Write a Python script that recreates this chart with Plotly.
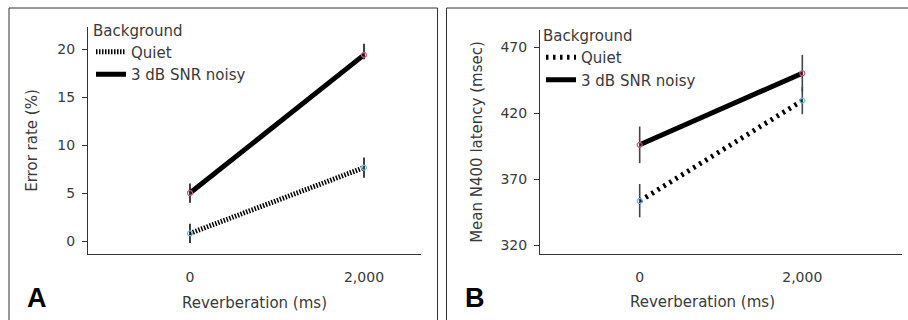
import plotly.graph_objects as go

# ---------------- data ----------------
reverb = [0, 2000]
reverb_ticktext = ["0", "2,000"]

# Panel A: error rate (%)
errA_quiet = [0.8, 7.65]
errA_quiet_plus = [1.0, 1.05]
errA_quiet_minus = [1.0, 1.05]
errA_noisy = [5.0, 19.4]
errA_noisy_plus = [1.0, 1.15]
errA_noisy_minus = [1.0, 0.45]
yticksA = [0, 5, 10, 15, 20]

# Panel B: mean N400 latency (msec)
latB_quiet = [353.4, 429.5]
latB_quiet_plus = [12.9, 10.3]
latB_quiet_minus = [12.4, 10.3]
latB_noisy = [396.0, 450.3]
latB_noisy_plus = [13.9, 13.9]
latB_noisy_minus = [13.9, 13.9]
yticksB = [320, 370, 420, 470]

W, H = 908, 320
FONT = "DejaVu Sans"
TXT = "#3a3a3a"
PINK = "#d4567e"
BLUE = "#7ab8e0"


def px_x(p):
    return p / W


def px_y(p):
    return (H - p) / H


fig = go.Figure()


def add_panel(xa, ya, quiet, qp, qm, noisy, npl, nm, quiet_dash, legend, barcolor):
    # lines (legend entries)
    fig.add_trace(go.Scatter(
        x=reverb, y=quiet, mode="lines", name="Quiet",
        line=dict(color="black", width=5, dash=quiet_dash),
        xaxis=xa, yaxis=ya, legend=legend, showlegend=True))
    fig.add_trace(go.Scatter(
        x=reverb, y=noisy, mode="lines", name="3 dB SNR noisy",
        line=dict(color="black", width=5),
        xaxis=xa, yaxis=ya, legend=legend, showlegend=True))
    # points + error bars
    fig.add_trace(go.Scatter(
        x=reverb, y=quiet, mode="markers", showlegend=False,
        marker=dict(symbol="circle-open", size=5, color=BLUE, line=dict(width=1.2, color=BLUE)),
        error_y=dict(type="data", array=qp, arrayminus=qm, color=barcolor, thickness=1.6, width=0),
        xaxis=xa, yaxis=ya))
    fig.add_trace(go.Scatter(
        x=reverb, y=noisy, mode="markers", showlegend=False,
        marker=dict(symbol="circle-open", size=5, color=PINK, line=dict(width=1.2, color=PINK)),
        error_y=dict(type="data", array=npl, arrayminus=nm, color=barcolor, thickness=1.6, width=0),
        xaxis=xa, yaxis=ya))


add_panel("x", "y", errA_quiet, errA_quiet_plus, errA_quiet_minus,
          errA_noisy, errA_noisy_plus, errA_noisy_minus, "1.5px,1.5px", "legend", "#111111")
add_panel("x2", "y2", latB_quiet, latB_quiet_plus, latB_quiet_minus,
          latB_noisy, latB_noisy_plus, latB_noisy_minus, "2.5px,4.5px", "legend2", "#3e4650")

axis_common = dict(showgrid=False, zeroline=False, showline=True, linecolor="#333333",
                   linewidth=1, tickfont=dict(family=FONT, size=14, color=TXT))

leg_common = dict(bgcolor="rgba(0,0,0,0)", font=dict(family=FONT, size=15, color=TXT),
                  title=dict(text="Background", font=dict(family=FONT, size=15, color=TXT)),
                  xanchor="left", yanchor="top", xref="paper", yref="paper",
                  tracegroupgap=0, borderwidth=0)

fig.update_layout(
    width=W, height=H,
    margin=dict(l=0, r=0, t=0, b=0),
    paper_bgcolor="white", plot_bgcolor="white",
    font=dict(family=FONT, size=14, color=TXT),
    xaxis=dict(domain=[px_x(88), px_x(421)], range=[-1172, 2655], anchor="y",
               tickvals=reverb, ticktext=reverb_ticktext, ticks="", ticklabelstandoff=10,
               title=dict(text="Reverberation (ms)", font=dict(family=FONT, size=15, color=TXT), standoff=13),
               **axis_common),
    yaxis=dict(domain=[px_y(254), px_y(27)], range=[-1.35, 22.3], anchor="x",
               tickvals=yticksA, ticks="outside", ticklen=5, tickcolor="#333333",
               ticklabelstandoff=4,
               title=dict(text="Error rate (%)", font=dict(family=FONT, size=15, color=TXT), standoff=16),
               **axis_common),
    xaxis2=dict(domain=[px_x(540), px_x(902)], range=[-1226, 3226], anchor="y2",
                tickvals=reverb, ticktext=reverb_ticktext, ticks="", ticklabelstandoff=10,
                **axis_common),
    yaxis2=dict(domain=[px_y(254), px_y(30)], range=[313.2, 483.1], anchor="x2",
                tickvals=yticksB, ticks="outside", ticklen=5, tickcolor="#333333",
                ticklabelstandoff=4,
                title=dict(text="Mean N400 latency (msec)", font=dict(family=FONT, size=15, color=TXT), standoff=14),
                **axis_common),
    legend=dict(x=px_x(91), y=px_y(16), **leg_common),
    legend2=dict(x=px_x(541), y=px_y(21.5), **leg_common),
    shapes=[
        dict(type="rect", xref="paper", yref="paper", x0=px_x(9), x1=px_x(437.5),
             y0=-0.2, y1=px_y(8), line=dict(color="#333333", width=1)),
        dict(type="rect", xref="paper", yref="paper", x0=px_x(446.5), x1=1.05,
             y0=-0.2, y1=px_y(8), line=dict(color="#333333", width=1)),
    ],
    annotations=[
        dict(text="<b>A</b>", x=px_x(37), y=px_y(298), xref="paper", yref="paper",
             showarrow=False, font=dict(family="Liberation Sans", size=27, color="black"),
             xanchor="center", yanchor="middle"),
        dict(text="<b>B</b>", x=px_x(475), y=px_y(298), xref="paper", yref="paper",
             showarrow=False, font=dict(family="Liberation Sans", size=27, color="black"),
             xanchor="center", yanchor="middle"),
        dict(text="Reverberation (ms)", x=px_x(702), y=px_y(302), xref="paper", yref="paper",
             showarrow=False, font=dict(family=FONT, size=15, color=TXT),
             xanchor="center", yanchor="middle"),
    ],
)

fig.write_html("out.html", config={"displayModeBar": False},
               post_script="document.body.style.margin='0px';")
